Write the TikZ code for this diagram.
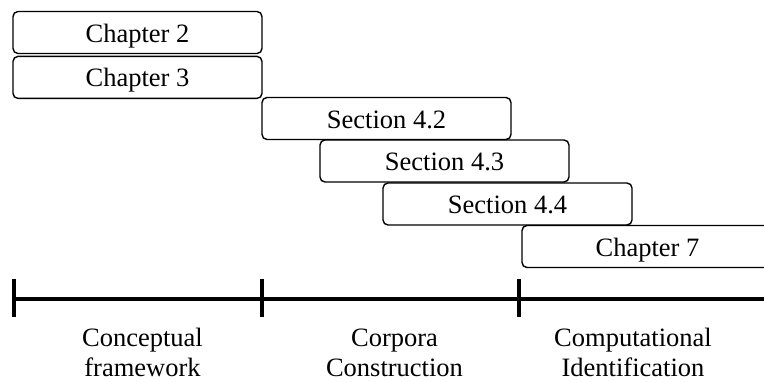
\documentclass[tikz,border=0pt]{standalone}
\usepackage{fontspec}
\setmainfont{Liberation Serif}
\usepackage{tikz}
\usetikzlibrary{positioning}
\tikzstyle{part} = [rectangle, rounded corners=5pt, draw=black, line width=1.4pt, minimum width=249pt, minimum height=42pt, inner sep=0pt, text height=19pt, text depth=0pt, text centered, font=\fontsize{26.5}{31}\selectfont]
\tikzstyle{phase} = [align=center, inner sep=0pt, anchor=south, text depth=0pt, font=\fontsize{26.5}{30}\selectfont]
\tikzstyle{axis} = [line width=4pt]

\begin{document}
\begin{tikzpicture}[x=1pt, y=-1pt]
        \useasboundingbox (0,0) rectangle (764,381);
        \node (ch2) [part] at (137.5,32.5) {Chapter 2};
        \node (ch3) [part, below=1.5pt of ch2] {Chapter 3};
        \node (sec42) [part] at (386.5,118.5) {Section 4.2};
        \node (sec43) [part] at (444.5,161) {Section 4.3};
        \node (sec44) [part] at (507.5,204) {Section 4.4};
        \node (ch7) [part, minimum width=251pt] at (647.5,246.5) {Chapter 7};

        \coordinate (t0) at (14,298.5);
        \coordinate (t1) at (262,298.5);
        \coordinate (t2) at (519,298.5);
        \coordinate (tend) at (766,298.5);
        \draw [axis] (t0) -- (tend);
        \draw [axis] ([yshift=20pt]t0) -- ([yshift=-18pt]t0);
        \draw [axis] ([yshift=20pt]t1) -- ([yshift=-18pt]t1);
        \draw [axis] ([yshift=20pt]t2) -- ([yshift=-18pt]t2);

        \node (concept) [phase] at (142.5,377) {Conceptual\\framework};
        \node (corpora) [phase] at (394.5,377) {Corpora\\Construction};
        \node (comput) [phase] at (633,377) {Computational\\Identification};
    \end{tikzpicture}
\end{document}
